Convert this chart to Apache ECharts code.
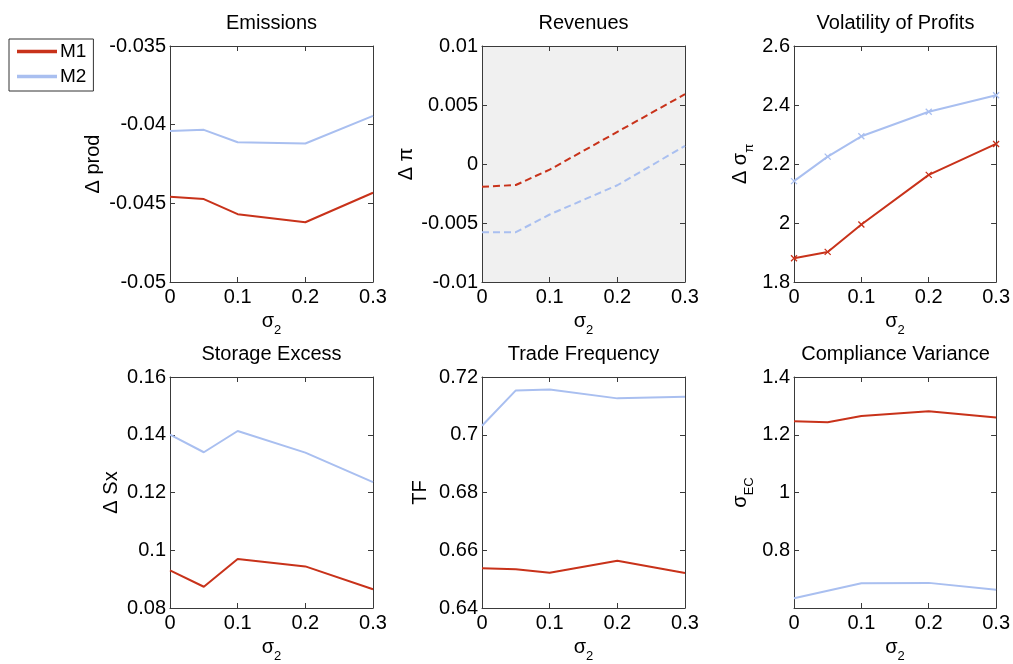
<!DOCTYPE html>
<html><head><meta charset="utf-8">
<script src="https://cdn.jsdelivr.net/npm/echarts@6/dist/echarts.min.js"></script>
<style>html,body{margin:0;padding:0;background:#fff}#c{width:1013px;height:664px}</style>
</head><body><div id="c"></div>
<script>
// ---- data ----
const sigma = [0, 0.05, 0.1, 0.2, 0.3];
const xTicks = [0, 0.1, 0.2, 0.3];
const seriesNames = ['M1', 'M2'];
const panelTitles = ['Emissions', 'Revenues', 'Volatility of Profits', 'Storage Excess', 'Trade Frequency', 'Compliance Variance'];

const emissionsM1 = [-0.04458, -0.04473, -0.04569, -0.0462, -0.04433];
const emissionsM2 = [-0.0404, -0.04033, -0.04112, -0.0412, -0.03944];
const revenuesM1 = [-0.00193, -0.00178, -0.00048, 0.00272, 0.00592];
const revenuesM2 = [-0.00578, -0.00578, -0.00428, -0.0018, 0.00153];
const volatilityM1 = [1.8805, 1.902, 1.995, 2.163, 2.268];
const volatilityM2 = [2.142, 2.225, 2.294, 2.377, 2.433];
const storageM1 = [0.09304, 0.08736, 0.097, 0.0944, 0.0865];
const storageM2 = [0.14006, 0.13394, 0.1413, 0.1338, 0.12362];
const tradeM1 = [0.6538, 0.6534, 0.6522, 0.6564, 0.6521];
const tradeM2 = [0.7031, 0.71535, 0.7157, 0.7126, 0.7132];
const complianceM1 = [1.247, 1.2436, 1.265, 1.281, 1.2595];
const complianceM2 = [0.634, 0.66, 0.686, 0.687, 0.6634];

// y tick labels (shown) and axis ranges
const emissionsTicks = [-0.05, -0.045, -0.04, -0.035];
const revenuesTicks = [-0.01, -0.005, 0, 0.005, 0.01];
const volatilityTicks = [1.8, 2, 2.2, 2.4, 2.6];
const storageTicks = [0.08, 0.1, 0.12, 0.14, 0.16];
const tradeTicks = [0.64, 0.66, 0.68, 0.7, 0.72];
const complianceTicks = [0.8, 1, 1.2, 1.4];
const complianceRange = [0.6, 1.4];

// ---- layout / style ----
const FONT = 'Liberation Sans, Arial, sans-serif';
const RED = '#c8321a', BLUE = '#a9bff0', AX = '#3a3a3a';
const W = 203, H = 236;
const rich = {
  a: {fontSize: 20, fontFamily: FONT, color: '#000', lineHeight: 20, verticalAlign: 'top'},
  s: {fontSize: 13, fontFamily: FONT, color: '#000', lineHeight: 26, verticalAlign: 'bottom'}
};
const panels = [
  {left: 170, top: 46, m1: emissionsM1, m2: emissionsM2, ticks: emissionsTicks, yName: '{a|Δ prod}', gap: 67},
  {left: 482, top: 46, m1: revenuesM1, m2: revenuesM2, ticks: revenuesTicks, yName: '{a|Δ π}', gap: 66, bg: '#f0f0f0', dashed: true},
  {left: 794, top: 46, m1: volatilityM1, m2: volatilityM2, ticks: volatilityTicks, yName: '{a|Δ σ}{s|π}', gap: 38, marks: true},
  {left: 170, top: 377, m1: storageM1, m2: storageM2, ticks: storageTicks, yName: '{a|Δ Sx}', gap: 49},
  {left: 482, top: 377, m1: tradeM1, m2: tradeM2, ticks: tradeTicks, yName: '{a|TF}', gap: 52},
  {left: 794, top: 377, m1: complianceM1, m2: complianceM2, ticks: complianceTicks, range: complianceRange, yName: '{a|σ}{s|EC}', gap: 38}
];

const option = {animation: false, grid: [], xAxis: [], yAxis: [], series: [], title: [],
  legend: {
    left: 9, top: 39, orient: 'vertical', padding: [3, 7, 5, 8], itemGap: 6,
    itemWidth: 38, itemHeight: 1.5, borderColor: '#333', borderWidth: 1,
    textStyle: {fontSize: 19, fontFamily: FONT, color: '#000', padding: [0, 0, 0, -1]},
    data: seriesNames.map(n => ({name: n, icon: 'rect'})), selectedMode: false
  }
};
const round6 = v => Math.round(v * 1e6) / 1e6;
const axisLine = {show: true, onZero: false, lineStyle: {color: AX, width: 1}};
const axisTick = {show: true, inside: true, length: 5, lineStyle: {color: AX, width: 1}};
const labelStyle = {fontSize: 20, fontFamily: FONT, color: '#000'};

panels.forEach((p, i) => {
  option.grid.push({left: p.left, top: p.top, width: W, height: H, show: !!p.bg,
    backgroundColor: p.bg || 'transparent', borderWidth: 0});
  option.title.push({text: panelTitles[i], left: p.left + W / 2, top: p.top - 33, textAlign: 'center', padding: 0,
    textStyle: {fontSize: 20, fontWeight: 'normal', fontFamily: FONT, color: '#000'}});
  const xMin = xTicks[0], xMax = xTicks[xTicks.length - 1], xInt = round6(xTicks[1] - xTicks[0]);
  const yMin = p.range ? p.range[0] : p.ticks[0];
  const yMax = p.range ? p.range[1] : p.ticks[p.ticks.length - 1];
  const yInt = round6(p.ticks[1] - p.ticks[0]);
  const fmt = v => p.ticks.some(t => Math.abs(t - v) < 1e-9) ? String(round6(v)) : '';
  option.xAxis.push({type: 'value', gridIndex: i, min: xMin, max: xMax, interval: xInt, position: 'bottom',
    axisLine, axisTick, splitLine: {show: false},
    axisLabel: Object.assign({margin: 5, showMinLabel: true, showMaxLabel: true}, labelStyle),
    name: '{a|σ}{s|2}', nameLocation: 'middle', nameGap: 29, nameTextStyle: {rich}});
  option.xAxis.push({type: 'value', gridIndex: i, min: xMin, max: xMax, interval: xInt, position: 'top',
    axisLine, axisTick, splitLine: {show: false}, axisLabel: {show: false}});
  option.yAxis.push({type: 'value', gridIndex: i, min: yMin, max: yMax, interval: yInt, position: 'left',
    axisLine, axisTick, splitLine: {show: false},
    axisLabel: Object.assign({margin: 4, formatter: fmt, showMinLabel: true, showMaxLabel: true}, labelStyle),
    name: p.yName, nameLocation: 'middle', nameGap: p.gap, nameTextStyle: {rich}});
  option.yAxis.push({type: 'value', gridIndex: i, min: yMin, max: yMax, interval: yInt, position: 'right',
    axisLine, axisTick, splitLine: {show: false}, axisLabel: {show: false}});
  [[p.m1, RED], [p.m2, BLUE]].forEach(([vals, col], k) => {
    option.series.push({
      type: 'line', name: seriesNames[k], xAxisIndex: 2 * i, yAxisIndex: 2 * i,
      data: sigma.map((x, j) => [x, vals[j]]),
      showSymbol: !!p.marks, symbol: p.marks ? 'path://M0,0L10,10M10,0L0,10' : 'none', symbolSize: 6,
      itemStyle: {color: col, borderColor: col, borderWidth: 1.3},
      lineStyle: {color: col, width: 2, type: p.dashed ? [7, 4] : 'solid'},
      z: k === 0 ? 3 : 2
    });
  });
});

const chart = echarts.init(document.getElementById('c'), null, {renderer: 'canvas'});
chart.setOption(option);
</script></body></html>
